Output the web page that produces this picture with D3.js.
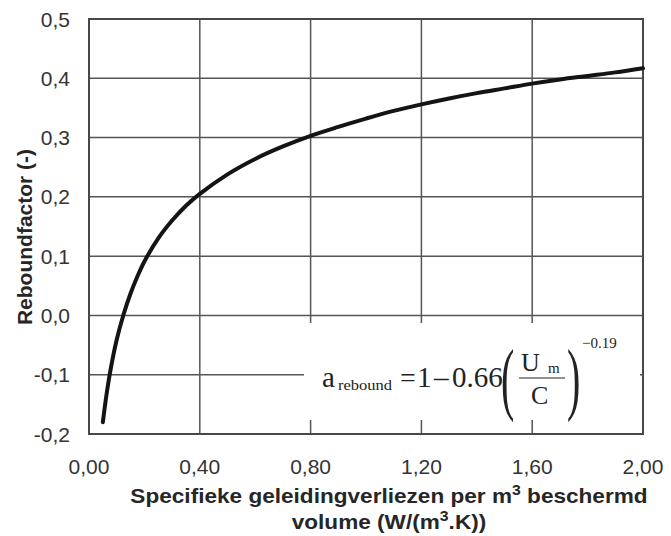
<!DOCTYPE html>
<html><head><meta charset="utf-8">
<script src="https://cdn.jsdelivr.net/npm/d3@7/dist/d3.min.js"></script>
<style>html,body{margin:0;padding:0;background:#fff;}</style>
</head><body>
<svg id="c" width="671" height="536"></svg>
<script>
// Data
const uValues = [0.05, 0.065, 0.08, 0.10, 0.125, 0.15, 0.175, 0.20, 0.25, 0.30, 0.35, 0.40, 0.50, 0.60, 0.70, 0.80, 0.90, 1.00, 1.10, 1.20, 1.30, 1.40, 1.50, 1.60, 1.70, 1.80, 1.90, 2.00];
const reboundValues = [-0.18, -0.128, -0.086, -0.041, 0.002, 0.037, 0.066, 0.091, 0.130, 0.160, 0.185, 0.205, 0.238, 0.264, 0.285, 0.303, 0.318, 0.332, 0.345, 0.356, 0.366, 0.375, 0.383, 0.391, 0.398, 0.404, 0.410, 0.417];
const xTicks = [0, 0.4, 0.8, 1.2, 1.6, 2.0];
const xTickLabels = ["0,00", "0,40", "0,80", "1,20", "1,60", "2,00"];
const yTicks = [-0.2, -0.1, 0.0, 0.1, 0.2, 0.3, 0.4, 0.5];
const yTickLabels = ["-0,2", "-0,1", "0,0", "0,1", "0,2", "0,3", "0,4", "0,5"];

const svg = d3.select("#c");
const L = 89, R = 643, T = 19, B = 434;
const x = d3.scaleLinear().domain([0, 2]).range([L, R]);
const y = d3.scaleLinear().domain([-0.2, 0.5]).range([B, T]);

const gridColor = "#555";
// grid
const g = svg.append("g");
g.selectAll("line.h").data(yTicks).enter().append("line")
  .attr("x1", L).attr("x2", R).attr("y1", d => y(d)).attr("y2", d => y(d))
  .attr("stroke", gridColor).attr("stroke-width", 1.5);
g.selectAll("line.v").data(xTicks).enter().append("line")
  .attr("y1", T).attr("y2", B).attr("x1", d => x(d)).attr("x2", d => x(d))
  .attr("stroke", gridColor).attr("stroke-width", 1.5);

// formula white box
svg.append("rect").attr("x", 304).attr("y", 323).attr("width", 336).attr("height", 97).attr("fill", "#fff");

// frame
svg.append("rect").attr("x", L).attr("y", T).attr("width", R - L).attr("height", B - T)
  .attr("fill", "none").attr("stroke", "#484848").attr("stroke-width", 2);

// curve
const pts = uValues.map((u, i) => [u, reboundValues[i]]);
svg.append("path").datum(pts)
  .attr("d", d3.line().x(d => x(d[0])).y(d => y(d[1])).curve(d3.curveCatmullRom.alpha(0.5)))
  .attr("fill", "none").attr("stroke", "#141414").attr("stroke-width", 4).attr("stroke-linecap", "round");

// tick labels
const tf = "'Liberation Sans', Arial, sans-serif";
svg.selectAll("text.yt").data(yTicks).enter().append("text")
  .attr("x", 70).attr("y", d => y(d)).attr("dy", "0.36em").attr("text-anchor", "end")
  .attr("font-family", tf).attr("font-size", 21).attr("fill", "#333")
  .text((d, i) => yTickLabels[i]);
svg.selectAll("text.xt").data(xTicks).enter().append("text")
  .attr("x", d => x(d)).attr("y", 474).attr("text-anchor", "middle")
  .attr("font-family", tf).attr("font-size", 21).attr("fill", "#333")
  .text((d, i) => xTickLabels[i]);

// axis titles
svg.append("text").attr("transform", "translate(32,237) rotate(-90)").attr("text-anchor", "middle")
  .attr("font-family", tf).attr("font-size", 21).attr("font-weight", "bold").attr("fill", "#262626")
  .text("Reboundfactor (-)");
const xt1 = svg.append("text").attr("x", 389).attr("y", 503).attr("text-anchor", "middle")
  .attr("transform", "translate(389,0) scale(1.13,1) translate(-389,0)")
  .attr("font-family", tf).attr("font-size", 20).attr("font-weight", "bold").attr("fill", "#262626");
xt1.append("tspan").text("Specifieke geleidingverliezen per m");
xt1.append("tspan").attr("font-size", 14).attr("dy", -8).text("3");
xt1.append("tspan").attr("dy", 8).text(" beschermd");
const xt2 = svg.append("text").attr("x", 389).attr("y", 529).attr("text-anchor", "middle")
  .attr("transform", "translate(389,0) scale(1.13,1) translate(-389,0)")
  .attr("font-family", tf).attr("font-size", 20).attr("font-weight", "bold").attr("fill", "#262626");
xt2.append("tspan").text("volume (W/(m");
xt2.append("tspan").attr("font-size", 14).attr("dy", -8).text("3");
xt2.append("tspan").attr("dy", 8).text(".K))");

// formula
const sf = "'Liberation Serif', 'Times New Roman', serif";
const fg = svg.append("g").attr("font-family", sf).attr("fill", "#222");
fg.append("text").attr("x", 322).attr("y", 387).attr("font-size", 29).text("a");
fg.append("text").attr("x", 338).attr("y", 390).attr("font-size", 14).attr("textLength", 54).attr("lengthAdjust", "spacingAndGlyphs").text("rebound");
fg.append("text").attr("x", 400).attr("y", 387).attr("font-size", 28).text("=");
fg.append("text").attr("x", 417).attr("y", 387).attr("font-size", 29).text("1");
fg.append("text").attr("x", 434).attr("y", 387).attr("font-size", 29).text("\u2013");
fg.append("text").attr("x", 452).attr("y", 387).attr("font-size", 29).text("0.66");
fg.append("text").attr("x", 501).attr("y", 405).attr("font-size", 80)
  .attr("transform", "translate(501,405) scale(0.5,1) translate(-501,-405)").text("(");
fg.append("text").attr("x", 567).attr("y", 405).attr("font-size", 80)
  .attr("transform", "translate(567,405) scale(0.5,1) translate(-567,-405)").text(")");
fg.append("text").attr("x", 521).attr("y", 371).attr("font-size", 26).text("U");
fg.append("text").attr("x", 548).attr("y", 373).attr("font-size", 15).text("m");
fg.append("line").attr("x1", 519).attr("x2", 565).attr("y1", 378).attr("y2", 378).attr("stroke", "#222").attr("stroke-width", 1.2);
fg.append("text").attr("x", 531).attr("y", 404).attr("font-size", 26).text("C");
fg.append("text").attr("x", 582).attr("y", 348).attr("font-size", 15).text("\u22120.19");
</script>
</body></html>
